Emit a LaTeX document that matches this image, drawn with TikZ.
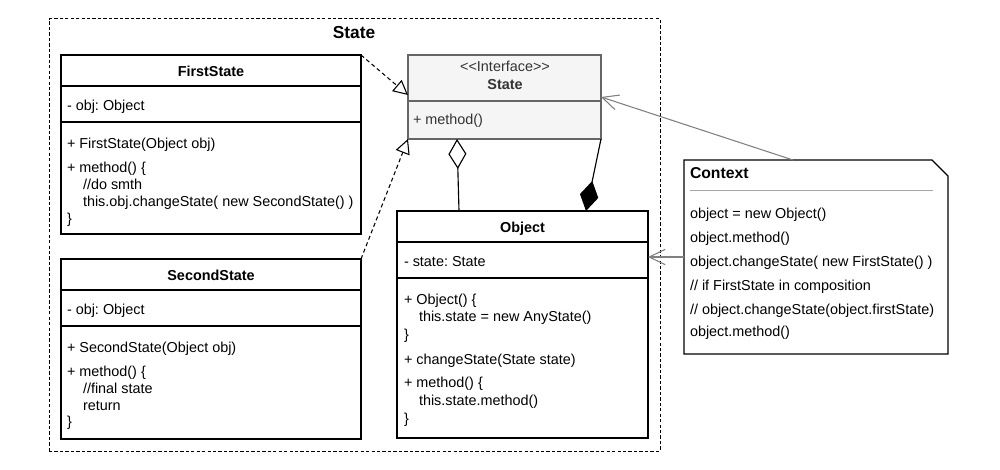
\documentclass[tikz,border=0pt]{standalone}
\usepackage{fontspec}
\setmainfont{Liberation Sans}
\usetikzlibrary{arrows.meta,fit,calc}
\definecolor{ifill}{HTML}{F5F5F5}
\definecolor{iline}{HTML}{666666}
\definecolor{itext}{HTML}{333333}
\definecolor{gline}{HTML}{808080}
\definecolor{sepl}{HTML}{A6A6A6}
\frenchspacing
\begin{document}
\begin{tikzpicture}[x=0.75pt,y=-0.75pt,
  every node/.style={inner sep=0pt, outer sep=0pt, font=\fontsize{10.8}{12.8}\selectfont},
  txt/.style={anchor=west, text height=7.7pt, text depth=0pt},
  hd/.style={anchor=center, text height=7.7pt, text depth=0pt, font=\fontsize{10.8}{12.8}\selectfont\bfseries},
  clsbox/.style={draw, line width=0.95pt},
  clsline/.style={line width=0.95pt},
  pkgframe/.style={draw, line width=0.75pt, dash pattern=on 2.5pt off 1.6pt},
  realz/.style={line width=0.8pt, dash pattern=on 3pt off 2.2pt, -{Triangle[fill=white, length=11pt, width=11pt]}},
  aggr/.style={line width=0.85pt, {Diamond[fill=white, length=22.5pt, width=13.5pt]}-},
  comp/.style={line width=0.85pt, -{Diamond[fill=black, length=23pt, width=14pt]}},
  assoc/.style={draw=gline, line width=0.8pt, -{Straight Barb[length=12pt, width=11.5pt]}},
]
\useasboundingbox (0,0) rectangle (1000,470);

% package frame
\node (pkg) [pkgframe, fit={(49,19) (660,451)}] {};
\node (pkgt) [font=\fontsize{13}{15}\selectfont\bfseries, text height=9.3pt, text depth=0pt] at (354,32) {State};

% FirstState
\node (fs) [clsbox, fit={(61,55) (361,234)}] {};
\draw[clsline] (61,86) -- (361,86) (61,122) -- (361,122);
\node[hd] (fsn) at (211,71) {FirstState};
\node[txt] (fs1) at (67,105.5) {- obj: Object};
\node[txt] (fs2) at (67,143.3) {+ FirstState(Object obj)};
\node[txt] (fs3) at (67,167.7) {+ method() \{};
\node[txt] (fs4) at (83,184.3) {//do smth};
\node[txt] (fs5) at (83,201.8) {this.obj.changeState( new SecondState() )};
\node[txt] (fs6) at (67,218.8) {\}};

% SecondState
\node (ss) [clsbox, fit={(61,259) (361,439)}] {};
\draw[clsline] (61,290) -- (361,290) (61,326) -- (361,326);
\node[hd] (ssn) at (211,275) {SecondState};
\node[txt] (ss1) at (67,309) {- obj: Object};
\node[txt] (ss2) at (67,347.3) {+ SecondState(Object obj)};
\node[txt] (ss3) at (67,371.5) {+ method() \{};
\node[txt] (ss4) at (83,388) {//final state};
\node[txt] (ss5) at (83,405) {return};
\node[txt] (ss6) at (67,421.8) {\}};

% Interface State
\node (if) [draw=iline, fill=ifill, line width=0.95pt, fit={(408,55) (601,139)}] {};
\draw[draw=iline, line width=0.95pt] (408,101) -- (601,101);
\node[text=itext, text height=7.7pt, text depth=0pt] (ifs) at (505,66.8) {<\kern0pt<Interface>\kern0pt>};
\node[hd, text=itext] (ifn) at (505,84.3) {State};
\node[txt, text=itext] (if1) at (413,119) {+ method()};

% Object
\node (obj) [clsbox, fit={(397,211) (648,438)}] {};
\draw[clsline] (397,242) -- (648,242) (397,278) -- (648,278);
\node[hd] (objn) at (522.5,227) {Object};
\node[txt] (ob1) at (404,261) {- state: State};
\node[txt] (ob2) at (404,299) {+ Object() \{};
\node[txt] (ob3) at (419,316.6) {this.state = new AnyState()};
\node[txt] (ob4) at (404,334) {\}};
\node[txt] (ob5) at (404,359.2) {+ changeState(State state)};
\node[txt] (ob6) at (404,382.8) {+ method() \{};
\node[txt] (ob7) at (419,400) {this.state.method()};
\node[txt] (ob8) at (404,418) {\}};

% Context note
\node (ctx) [fit={(684,160) (948,354)}] {};
\draw[line width=0.95pt] (684,160) -- (932,160) -- (948,176) -- (948,354) -- (684,354) -- cycle;
\node[anchor=west, font=\fontsize{11.8}{14}\selectfont\bfseries, text height=8.45pt, text depth=0pt] (ctxn) at (690,172.5) {Context};
\draw[draw=sepl, line width=0.75pt] (690,190.5) -- (933,190.5);
\node[txt] (cx1) at (690,213.3) {object = new Object()};
\node[txt] (cx2) at (690,237.3) {object.method()};
\node[txt] (cx3) at (690,261) {object.changeState( new FirstState() )};
\node[txt] (cx4) at (690,285) {// if FirstState in composition};
\node[txt] (cx5) at (690,309.3) {// object.changeState(object.firstState)};
\node[txt] (cx6) at (690,331) {object.method()};

% connectors
\coordinate (fsTip) at (408,95);
\draw[realz] (fs.north east) -- (fsTip);
\draw[realz] (ss.north east) -- (if.south west);
\coordinate (aggTop) at (457,139);
\coordinate (aggBot) at (459,211);
\draw[aggr] (aggTop) -- (aggBot);
\coordinate (compBot) at (586,211);
\draw[comp] (if.south east) -- (compBot);
\coordinate (ctxTop) at (793,160);
\coordinate (ifR) at (601,97);
\draw[assoc] (ctxTop) -- (ifR);
\draw[assoc] (ctx.west) -- (ctx.west -| obj.east);
\end{tikzpicture}
\end{document}
